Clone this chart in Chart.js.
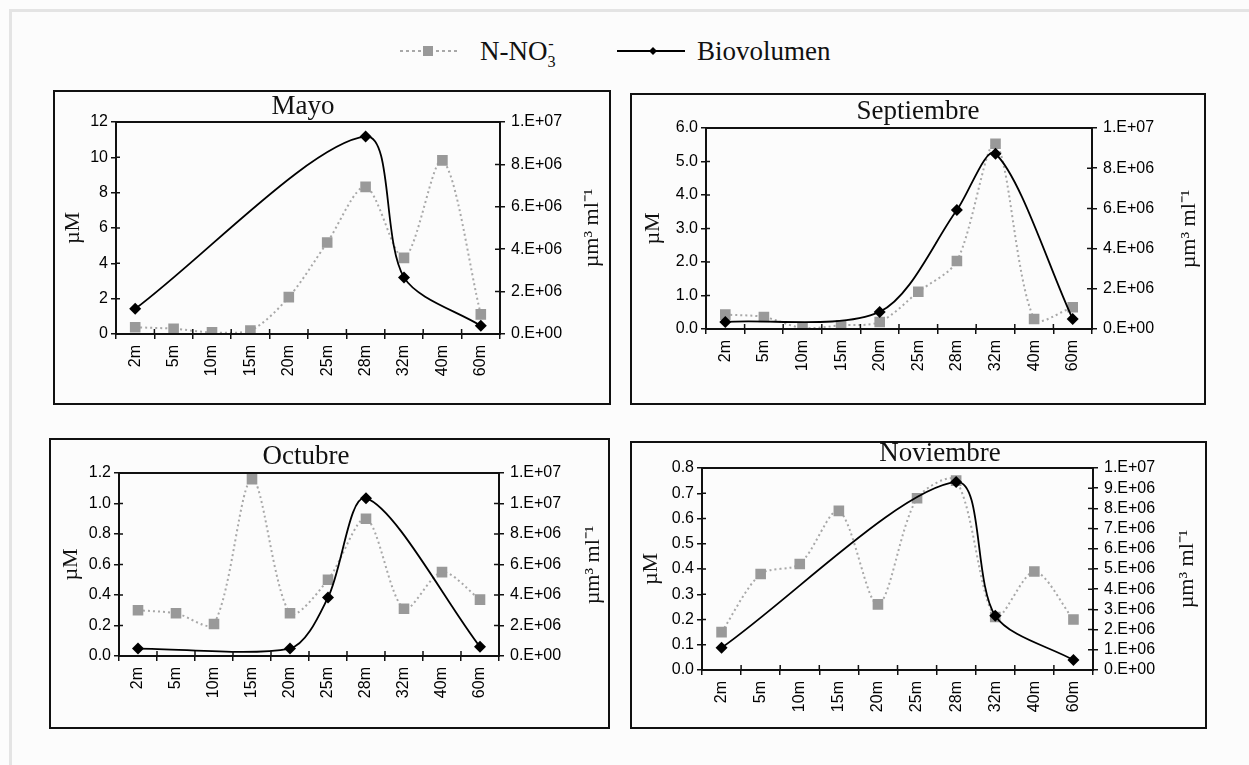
<!DOCTYPE html>
<html>
<head>
<meta charset="utf-8">
<script src="https://cdn.jsdelivr.net/npm/chart.js@4.4.1/dist/chart.umd.min.js"></script>
<style>
  body { margin:0; width:1249px; height:765px; background:#fcfcfc; position:relative; overflow:hidden; font-family:'Liberation Serif', serif; color:#111; }
  .frame { position:absolute; left:9px; top:9px; width:1300px; height:800px; border-left:3px solid #e4e4e4; border-top:3px solid #e4e4e4; }
  .box { position:absolute; border:2px solid #111; box-sizing:border-box; pointer-events:none; }
  canvas { position:absolute; }
  .ttl { position:absolute; transform:translate(-50%,-50%); font-size:27px; line-height:1; white-space:nowrap; }
  .ytl { position:absolute; transform:translate(-50%,-50%) rotate(-90deg); font-size:22px; line-height:1; white-space:nowrap; }
  .lg { position:absolute; top:51px; transform:translateY(-50%); font-size:27px; line-height:1; white-space:nowrap; }
  .ion { display:inline-block; position:relative; width:0.32em; height:1em; font-size:0.6em; vertical-align:top; }
  .ion .up { position:absolute; left:0.05em; top:-0.1em; }
  .ion .dn { position:absolute; left:0; top:1.0em; }
  svg { position:absolute; }
</style>
</head>
<body>
<div class="frame"></div>

<!-- legend -->
<svg style="left:396px;top:41px" width="70" height="20">
  <line x1="4" y1="10" x2="64" y2="10" stroke="#a8a8a8" stroke-width="2" stroke-dasharray="3,3"/>
  <rect x="27" y="5" width="10" height="10" fill="#999"/>
</svg>
<div class="lg" style="left:480px">N-NO<span class="ion"><span class="up">-</span><span class="dn">3</span></span></div>
<svg style="left:614px;top:41px" width="76" height="20">
  <line x1="3" y1="10" x2="71" y2="10" stroke="#000" stroke-width="2"/>
  <polygon points="39,6 43,10 39,14 35,10" fill="#000"/>
</svg>
<div class="lg" style="left:697px">Biovolumen</div>

<script>
// ── DATA ──────────────────────────────────────────
const depths = ['2m', '5m', '10m', '15m', '20m', '25m', '28m', '32m', '40m', '60m'];
const months = ['Mayo', 'Septiembre', 'Octubre', 'Noviembre'];

// N-NO3- (µM, left axis)
const no3Mayo = [0.38, 0.30, 0.09, 0.19, 2.09, 5.18, 8.33, 4.31, 9.83, 1.11];
const no3Sep  = [0.43, 0.36, 0.03, 0.11, 0.21, 1.11, 2.03, 5.53, 0.30, 0.65];
const no3Oct  = [0.30, 0.28, 0.21, 1.16, 0.28, 0.50, 0.90, 0.31, 0.55, 0.37];
const no3Nov  = [0.15, 0.38, 0.42, 0.63, 0.26, 0.68, 0.75, 0.21, 0.39, 0.20];

// Biovolumen (µm3 ml-1, right axis), only sampled depths
const bioMayo = [1.19e6, null, null, null, null, null, 9.32e6, 2.67e6, null, 0.39e6];
const bioSep  = [0.35e6, null, null, null, 0.85e6, null, 5.92e6, 8.72e6, null, 0.50e6];
const bioOct  = [0.49e6, null, null, null, 0.49e6, 3.84e6, 10.35e6, null, null, 0.60e6];
const bioNov  = [1.10e6, null, null, null, null, null, 9.31e6, 2.69e6, null, 0.49e6];

// axis ranges per panel
const leftMax   = [12, 6, 1.2, 0.8];
const leftStep  = [2, 1, 0.2, 0.1];
const leftDec   = [0, 1, 1, 1];
const rightMax  = [1e7, 1e7, 1.2e7, 1e7];
const rightStep = [2e6, 2e6, 2e6, 1e6];

const no3All = [no3Mayo, no3Sep, no3Oct, no3Nov];
const bioAll = [bioMayo, bioSep, bioOct, bioNov];

// ── LAYOUT (page px) ──────────────────────────────
const panels = [
  { box:[53, 90, 611, 405],  plot:[116, 122, 500, 334], title:[303, 105], lt:73,  rt:591 },
  { box:[630, 93, 1206, 405], plot:[706, 128, 1092, 329], title:[918, 110], lt:653, rt:1188 },
  { box:[49, 438, 610, 729], plot:[119, 473, 499, 656], title:[306, 455], lt:71,  rt:592 },
  { box:[630, 441, 1207, 729], plot:[702, 468, 1093, 670], title:[940, 452], lt:651, rt:1186 }
];

Chart.defaults.font.family = "'Liberation Sans', Arial, sans-serif";
Chart.defaults.color = '#000';

function sci(v) {
  if (v <= 0) return '0.E+00';
  let e = Math.floor(Math.log10(v) + 1e-9);
  let m = Math.round(v / Math.pow(10, e));
  if (m >= 10) { m = 1; e++; }
  return m + '.E+' + String(e).padStart(2, '0');
}

function addDiv(cls, html, x, y) {
  const d = document.createElement('div');
  d.className = cls;
  d.innerHTML = html;
  d.style.left = x + 'px'; d.style.top = y + 'px';
  document.body.appendChild(d);
  return d;
}

// plot frame + inner half of the crossing tick marks
const framePlugin = {
  id: 'frame',
  afterDraw(chart) {
    const { ctx, chartArea: a, scales } = chart;
    ctx.save();
    ctx.strokeStyle = '#111';
    ctx.lineWidth = 2;
    ctx.strokeRect(a.left, a.top, a.right - a.left, a.bottom - a.top);
    ctx.lineWidth = 1.5;
    ctx.beginPath();
    const n = depths.length, w = (a.right - a.left) / n;
    for (let i = 1; i < n; i++) {
      const x = a.left + i * w;
      ctx.moveTo(x, a.bottom); ctx.lineTo(x, a.bottom - 5);
    }
    scales.y.ticks.forEach(t => {
      const y = scales.y.getPixelForValue(t.value);
      ctx.moveTo(a.left, y); ctx.lineTo(a.left + 4, y);
    });
    scales.y2.ticks.forEach(t => {
      const y = scales.y2.getPixelForValue(t.value);
      ctx.moveTo(a.right, y); ctx.lineTo(a.right - 5, y);
    });
    ctx.stroke();
    ctx.restore();
  }
};

const tickFont = { size: 16 };
const titleFont = { family: "'Liberation Serif', serif", size: 22 };

panels.forEach((p, i) => {
  const [bx1, by1, bx2, by2] = p.box;
  const [pl, pt, pr, pb] = p.plot;
  const W = bx2 - bx1, H = by2 - by1;

  const cv = document.createElement('canvas');
  cv.width = W; cv.height = H;
  cv.style.left = bx1 + 'px'; cv.style.top = by1 + 'px';
  cv.style.width = W + 'px'; cv.style.height = H + 'px';
  document.body.appendChild(cv);

  const box = document.createElement('div');
  box.className = 'box';
  Object.assign(box.style, { left: bx1 + 'px', top: by1 + 'px', width: W + 'px', height: H + 'px' });
  document.body.appendChild(box);

  addDiv('ttl', months[i], p.title[0], p.title[1]);
  // right axis title reads bottom-to-top, like the left one
  addDiv('ytl', 'µm³ ml⁻¹', p.rt, (pt + pb) / 2);

  const wl = pl - bx1, wr = bx2 - pr, hx = by2 - pb;
  const half = titleFont.size * 1.2 / 2;
  const padL = Math.max(0, (p.lt - bx1) - half);

  new Chart(cv, {
    type: 'line',
    data: {
      labels: depths,
      datasets: [
        {
          label: 'Biovolumen', data: bioAll[i], yAxisID: 'y2',
          borderColor: '#000', borderWidth: 1.8, tension: 0.3, spanGaps: true,
          pointStyle: 'rectRot', pointRadius: 6, pointBackgroundColor: '#000', pointBorderColor: '#000', pointBorderWidth: 0
        },
        {
          label: 'N-NO3-', data: no3All[i], yAxisID: 'y',
          borderColor: '#a8a8a8', borderWidth: 2, borderDash: [2, 3], tension: 0.3,
          pointStyle: 'rect', pointRadius: 7.5, pointBackgroundColor: '#999', pointBorderColor: '#999', pointBorderWidth: 0
        }
      ]
    },
    options: {
      responsive: false, animation: false, devicePixelRatio: 1,
      layout: { padding: { top: pt - by1, left: 0, right: 0, bottom: 0 } },
      plugins: { legend: { display: false }, tooltip: { enabled: false } },
      scales: {
        x: {
          type: 'category', offset: true,
          grid: { offset: true, drawOnChartArea: false, tickLength: 5, color: '#111', lineWidth: 1.5 },
          border: { display: false },
          ticks: { autoSkip: false, minRotation: 90, maxRotation: 90, padding: 6, font: tickFont },
          afterFit(s) { s.height = hx; }
        },
        y: {
          position: 'left', min: 0, max: leftMax[i],
          grid: { drawOnChartArea: false, tickLength: 5, color: '#111', lineWidth: 1.5 },
          border: { display: false },
          ticks: { stepSize: leftStep[i], autoSkip: false, padding: 3, font: tickFont,
                   callback: v => Number(v).toFixed(leftDec[i]) },
          title: { display: true, text: 'µM', font: titleFont, color: '#111', padding: { top: padL, bottom: 0 } },
          afterFit(s) { s.width = wl; }
        },
        y2: {
          position: 'right', min: 0, max: rightMax[i],
          grid: { drawOnChartArea: false, tickLength: 5, color: '#111', lineWidth: 1.5 },
          border: { display: false },
          ticks: { stepSize: rightStep[i], autoSkip: false, padding: 6, font: tickFont, callback: v => sci(v) },
          afterFit(s) { s.width = wr; }
        }
      }
    },
    plugins: [framePlugin]
  });
});
</script>
</body>
</html>
